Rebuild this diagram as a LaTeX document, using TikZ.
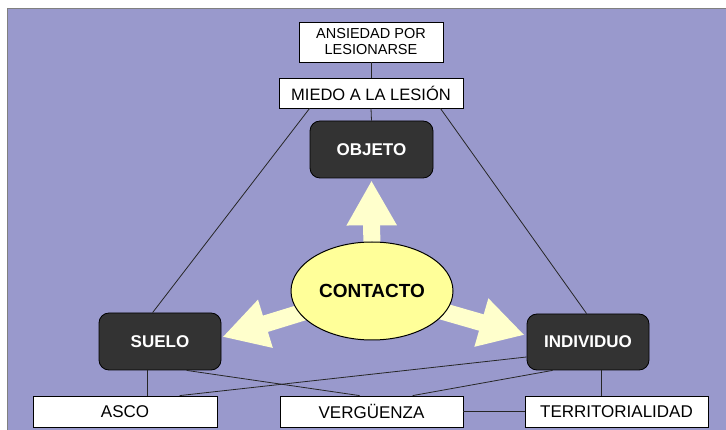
\documentclass[tikz,border=0pt]{standalone}
\usepackage{fontspec}
\setmainfont{Liberation Sans}
\usetikzlibrary{arrows.meta,calc,shapes.geometric}
\definecolor{bgpurple}{HTML}{9999CC}
\definecolor{darkbox}{HTML}{333333}
\definecolor{ellfill}{HTML}{FFFF99}
\definecolor{arrfill}{HTML}{FFFFCC}
\tikzset{
  whitebox/.style={draw=black, line width=0.8pt, fill=white, inner sep=0pt, align=center, font=\fontsize{17}{19}\selectfont},
  darkrect/.style={draw=black, line width=0.8pt, fill=darkbox, rounded corners=10pt, inner sep=0pt, text=white, font=\fontsize{17}{19}\selectfont\bfseries},
  link/.style={draw=black!85, line width=0.8pt},
  fatarrow/.style={draw=arrfill, line width=17pt, -{Triangle[length=45pt,width=47pt]}, arrfill}
}
\begin{document}
\begin{tikzpicture}[x=1pt,y=-1pt]
\useasboundingbox (0,0) rectangle (726,430);
\fill[bgpurple] (7,9) rectangle (740,440);
\draw[gray, line width=1pt] (7,440) -- (7,9) -- (740,9);

% nodes
\node[whitebox, minimum width=144pt, minimum height=40pt, font=\fontsize{14.5}{16}\selectfont] (ansiedad) at (371,42) {ANSIEDAD POR\\LESIONARSE};
\node[whitebox, minimum width=184pt, minimum height=30pt, font=\fontsize{16.5}{18}\selectfont] (miedo) at (371,93) {MIEDO A LA LESIÓN};
\node[darkrect, minimum width=123pt, minimum height=57pt] (objeto) at (371.5,149.5) {OBJETO};
\node[darkrect, minimum width=122pt, minimum height=57pt] (suelo) at (160,341.5) {SUELO};
\node[darkrect, minimum width=122pt, minimum height=56pt] (individuo) at (588,342) {INDIVIDUO};
\node[whitebox, minimum width=184pt, minimum height=31pt] (asco) at (125,411.5) {ASCO};
\node[whitebox, minimum width=183pt, minimum height=31pt] (verguenza) at (371.5,411.5) {VERGÜENZA};
\node[whitebox, minimum width=183pt, minimum height=31pt] (territorialidad) at (616.5,411.5) {TERRITORIALIDAD};

% connectors
\draw[link] (ansiedad.south) -- (miedo.north);
\draw[link] (miedo.south) -- (objeto.north);
\draw[link] ($(miedo.south west)+(31,0)$) -- ($(suelo.north west)+(54,0)$);
\draw[link] ($(miedo.south east)+(-23,0)$) -- ($(individuo.north west)+(60,0)$);
\draw[link] ($(suelo.south west)+(49,0)$) -- ($(asco.north west)+(115,0)$);
\draw[link] ($(individuo.south west)+(75,0)$) -- ($(territorialidad.north west)+(77,0)$);
\draw[link] (verguenza.east) -- (territorialidad.west);
\draw[link] ($(suelo.south west)+(88,0)$) -- ($(verguenza.north west)+(80,0)$);
\draw[link] ($(individuo.west)+(0,15)$) -- ($(asco.north west)+(147,0)$);
\draw[link] ($(individuo.south west)+(26,0)$) -- ($(verguenza.north west)+(133,0)$);

% fat arrows (behind the ellipse)
\coordinate (cc) at (372,291);
\draw[fatarrow] (cc) -- ($(objeto.south)+(0,2)$);
\draw[fatarrow] (cc) -- ($(suelo.east)+(1,-4.5)$);
\draw[fatarrow] (cc) -- ($(individuo.west)+(-2,-7)$);

\node[ellipse, draw=black, line width=1pt, fill=ellfill, minimum width=162pt, minimum height=98pt, inner sep=0pt, font=\fontsize{19}{21}\selectfont\bfseries] (contacto) at (cc) {CONTACTO};
\end{tikzpicture}
\end{document}
